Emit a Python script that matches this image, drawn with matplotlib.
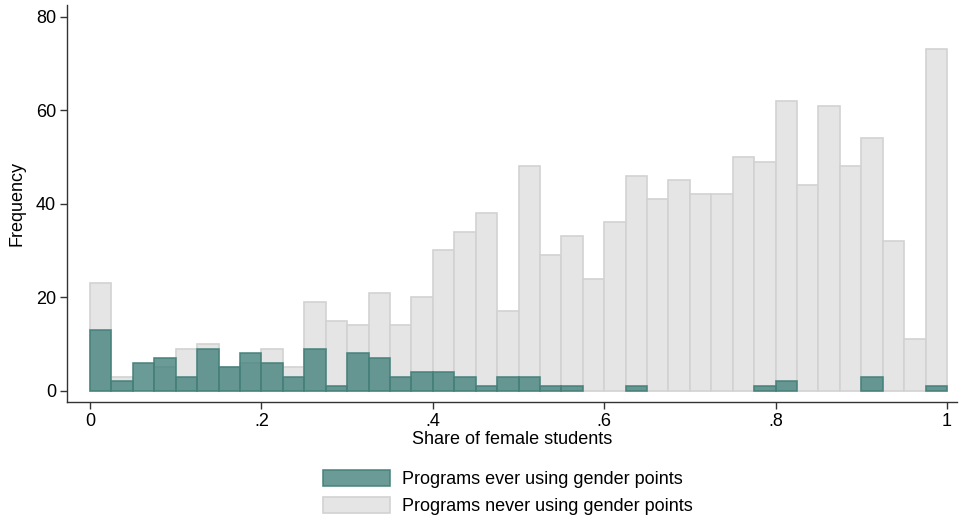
# overlaid frequency histograms of female share, by use of gender points
import numpy as np
import matplotlib.pyplot as plt

plt.rcParams['font.family'] = ['Liberation Sans', 'DejaVu Sans']

# bin edges: 40 bins of width .025 on [0, 1]
bin_edges = np.linspace(0, 1, 41)

# counts per bin, programs never using gender points
never_counts = [23, 3, 0, 5, 9, 10, 5, 6, 9, 5,
                19, 15, 14, 21, 14, 20, 30, 34, 38, 17,
                48, 29, 33, 24, 36, 46, 41, 45, 42, 42,
                50, 49, 62, 44, 61, 48, 54, 32, 11, 73]

# counts per bin, programs ever using gender points
ever_counts = [13, 2, 6, 7, 3, 9, 5, 8, 6, 3,
               9, 1, 8, 7, 3, 4, 4, 3, 1, 3,
               3, 1, 1, 0, 0, 1, 0, 0, 0, 0,
               0, 1, 2, 0, 0, 0, 3, 0, 0, 1]

labels = ['Programs ever using gender points', 'Programs never using gender points']

left = bin_edges[:-1]
width = np.diff(bin_edges)

# empty bins get no outline
lw_never = [1.2 if c > 0 else 0 for c in never_counts]
lw_ever = [1.2 if c > 0 else 0 for c in ever_counts]

fig = plt.figure(figsize=(9.59, 5.16), dpi=100)
ax = fig.add_axes([67 / 959, (516 - 402) / 516, (957 - 67) / 959, (402 - 5) / 516])

# gray histogram first, teal one drawn over it with some transparency
b_never = ax.bar(left, never_counts, width=width, align='edge',
                 color='#e5e5e5', edgecolor='#d2d2d2', linewidth=lw_never, zorder=1)
b_ever = ax.bar(left, ever_counts, width=width, align='edge',
                color=(0.27, 0.51, 0.485, 0.8), edgecolor=(0.27, 0.5, 0.48, 0.9),
                linewidth=lw_ever, zorder=2)

# plot region with margins around the data, like Stata
px_x = 857.0
ax.set_xlim(-23 / px_x, 1 + 10 / px_x)
px_y = 4.675
ax.set_ylim(-11.3 / px_y, 80 + 11.7 / px_y)

ax.set_xticks([0, .2, .4, .6, .8, 1])
ax.set_xticklabels(['0', '.2', '.4', '.6', '.8', '1'])
ax.set_yticks([0, 20, 40, 60, 80])
ax.tick_params(axis='both', labelsize=13, length=5, width=1, color='#333333', pad=3)

for s in ['top', 'right']:
    ax.spines[s].set_visible(False)
for s in ['left', 'bottom']:
    ax.spines[s].set_color('#333333')
    ax.spines[s].set_linewidth(1)

ax.set_xlabel('Share of female students', fontsize=13, labelpad=1)
ax.set_ylabel('Frequency', fontsize=13, labelpad=7)

leg = fig.legend([b_ever, b_never], labels, loc='center', bbox_to_anchor=(508 / 959, 1 - 492.5 / 516),
                 frameon=False, fontsize=13, handlelength=3.7, handleheight=1.0,
                 labelspacing=0.45, handletextpad=0.7)
for h in leg.legend_handles:
    h.set_linewidth(1.2)

fig.savefig('out.png', dpi=100)
